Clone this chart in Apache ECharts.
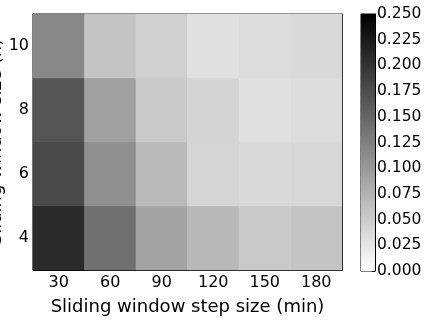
<!DOCTYPE html>
<html>
<head>
<meta charset="utf-8">
<script src="https://cdn.jsdelivr.net/npm/echarts@6/dist/echarts.min.js"></script>
<style>
  html, body { margin: 0; padding: 0; background: #fff; }
  #chart { width: 431px; height: 320px; }
</style>
</head>
<body>
<div id="chart"></div>
<script>
  // step size (min) along x, window size (h) along y
  var stepSizes = ['30', '60', '90', '120', '150', '180'];
  var windowSizes = ['4', '6', '8', '10'];
  var row4 = [0.208, 0.140, 0.090, 0.070, 0.054, 0.058];
  var row6 = [0.178, 0.110, 0.068, 0.041, 0.037, 0.039];
  var row8 = [0.167, 0.093, 0.053, 0.042, 0.030, 0.034];
  var row10 = [0.117, 0.058, 0.046, 0.030, 0.034, 0.037];
  var colorMin = 0, colorMax = 0.25, colorStep = 0.025;

  var rows = [row4, row6, row8, row10];
  var cells = [];
  rows.forEach(function (row, j) {
    row.forEach(function (v, i) {
      cells.push([i, j, v]);
    });
  });

  var font = '"DejaVu Sans", sans-serif';
  var tick = { show: true, inside: true, length: 4, alignWithLabel: true, lineStyle: { color: '#000' } };

  var chart = echarts.init(document.getElementById('chart'));
  chart.setOption({
    animation: false,
    textStyle: { fontFamily: font },
    grid: [
      { left: 33, top: 14, width: 309, height: 256, show: true, borderColor: '#000', borderWidth: 1, backgroundColor: 'transparent', containLabel: false, outerBoundsMode: 'none' },
      { left: 361, top: 14, width: 14, height: 257, show: true, borderColor: '#000', borderWidth: 1, backgroundColor: 'transparent', containLabel: false, outerBoundsMode: 'none' }
    ],
    visualMap: {
      show: false,
      type: 'continuous',
      seriesIndex: 0,
      min: colorMin,
      max: colorMax,
      inRange: { color: ['#ffffff', '#000000'] }
    },
    xAxis: [
      {
        type: 'category', data: stepSizes, gridIndex: 0, position: 'bottom',
        name: 'Sliding window step size (min)', nameLocation: 'middle', nameGap: 28,
        nameMoveOverlap: false,
        nameTextStyle: { fontSize: 18, color: '#000', fontFamily: font },
        axisLine: { show: true, lineStyle: { color: '#000' } },
        axisTick: tick,
        axisLabel: { fontSize: 16, color: '#000', margin: 5, fontFamily: font },
        splitLine: { show: false }
      },
      {
        type: 'category', data: stepSizes, gridIndex: 0, position: 'top',
        axisLine: { show: true, lineStyle: { color: '#000' } },
        axisTick: tick,
        axisLabel: { show: false },
        splitLine: { show: false }
      },
      {
        type: 'category', data: [''], gridIndex: 1,
        axisLine: { show: false }, axisTick: { show: false }, axisLabel: { show: false }
      }
    ],
    yAxis: [
      {
        type: 'category', data: windowSizes, gridIndex: 0, position: 'left',
        name: 'Sliding window size (h)', nameLocation: 'middle', nameGap: 28,
        nameMoveOverlap: false,
        nameTextStyle: { fontSize: 18, color: '#000', fontFamily: font },
        axisLine: { show: true, lineStyle: { color: '#000' } },
        axisTick: tick,
        axisLabel: { fontSize: 16, color: '#000', margin: 4, fontFamily: font },
        splitLine: { show: false }
      },
      {
        type: 'category', data: windowSizes, gridIndex: 0, position: 'right',
        axisLine: { show: true, lineStyle: { color: '#000' } },
        axisTick: tick,
        axisLabel: { show: false },
        splitLine: { show: false }
      },
      {
        type: 'value', gridIndex: 1, position: 'right',
        min: colorMin, max: colorMax, interval: colorStep,
        axisLine: { show: true, lineStyle: { color: '#000' } },
        axisTick: { show: true, inside: true, length: 3, lineStyle: { color: '#000' } },
        axisLabel: {
          fontSize: 15.5, color: '#000', margin: 2, fontFamily: font,
          formatter: function (v) { return v.toFixed(3); }
        },
        splitLine: { show: false }
      }
    ],
    series: [
      {
        type: 'heatmap',
        xAxisIndex: 0,
        yAxisIndex: 0,
        data: cells,
        itemStyle: { borderWidth: 0 },
        emphasis: { disabled: true }
      },
      {
        // colorbar
        type: 'bar',
        xAxisIndex: 2,
        yAxisIndex: 2,
        data: [colorMax],
        barWidth: '100%',
        silent: true,
        itemStyle: {
          color: new echarts.graphic.LinearGradient(0, 0, 0, 1, [
            { offset: 0, color: '#000000' },
            { offset: 1, color: '#ffffff' }
          ])
        }
      }
    ]
  });
</script>
</body>
</html>
